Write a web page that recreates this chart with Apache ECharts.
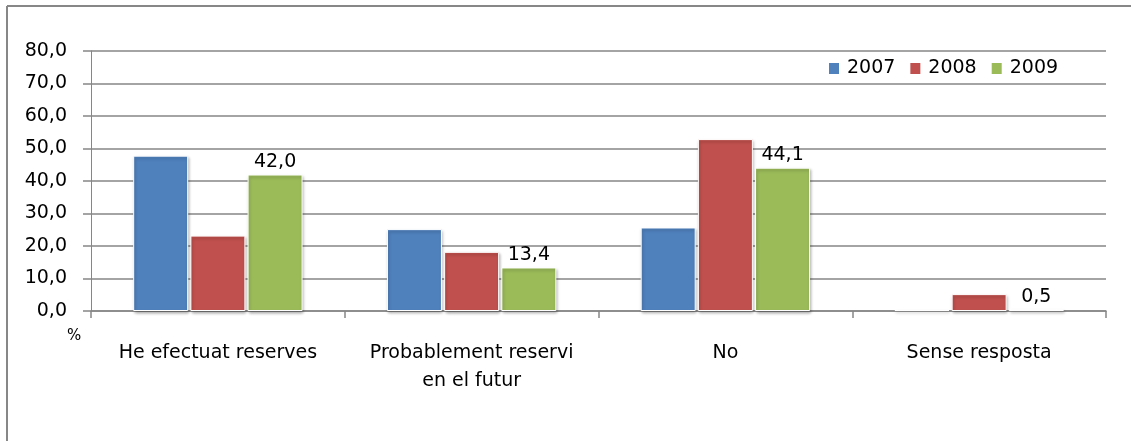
<!DOCTYPE html>
<html>
<head>
<meta charset="utf-8">
<script src="https://cdn.jsdelivr.net/npm/echarts@6/dist/echarts.min.js"></script>
<style>
  html, body { margin: 0; padding: 0; background: #fff; }
  #chart { width: 1131px; height: 441px; }
</style>
</head>
<body>
<div id="chart"></div>
<script>
  // values
  const categories = ['He efectuat reserves', 'Probablement reservi\nen el futur', 'No', 'Sense resposta']
  const years = ['2007', '2008', '2009']
  const values2007 = [47.8, 25.2, 25.7, 0.3]
  const values2008 = [23.2, 18.2, 52.9, 5.2]
  const values2009 = [42.0, 13.4, 44.1, 0.5]
  const colors = ['#4F81BD', '#C0504D', '#9BBB59']

  const fmt = v => Number(v).toFixed(1).replace('.', ',')
  const font = 'DejaVu Sans'
  const frame = { stroke: '#878787', lineWidth: 2 }

  const chart = echarts.init(document.getElementById('chart'))

  function barSeries(name, data, color, withLabel) {
    return {
      name: name,
      type: 'bar',
      data: data,
      barWidth: 55,
      barGap: '4%',
      itemStyle: {
        color: color,
        borderColor: '#fff',
        borderWidth: 1,
        shadowColor: 'rgba(0,0,0,0.3)',
        shadowBlur: 3,
        shadowOffsetX: 1,
        shadowOffsetY: 2
      },
      label: {
        show: withLabel,
        position: 'top',
        distance: 3,
        color: '#000',
        fontFamily: font,
        fontSize: 19,
        formatter: p => fmt(p.value)
      }
    }
  }

  chart.setOption({
    animation: false,
    color: colors,
    graphic: [
      // chart frame: only the top and left edges fall inside the picture
      { type: 'line', shape: { x1: 7, y1: 6, x2: 1131, y2: 6 }, style: frame, silent: true },
      { type: 'line', shape: { x1: 7, y1: 6, x2: 7, y2: 441 }, style: frame, silent: true },
      {
        type: 'text',
        left: 67,
        top: 329,
        style: { text: '%', fontFamily: font, fontSize: 15, fill: '#000' }
      }
    ],
    legend: {
      data: years,
      left: 822,
      top: 54,
      icon: 'rect',
      itemWidth: 12,
      itemHeight: 13,
      itemGap: 13,
      textStyle: { fontFamily: font, fontSize: 19, color: '#000', padding: [0, 0, 0, 2] }
    },
    grid: {
      left: 91,
      right: 25,
      top: 51,
      bottom: 130
    },
    xAxis: {
      type: 'category',
      data: categories,
      axisLine: { lineStyle: { color: '#868686', width: 1.5 } },
      axisTick: { show: true, length: 7, alignWithLabel: false, lineStyle: { color: '#868686', width: 1.5 } },
      axisLabel: {
        interval: 0,
        margin: 28,
        color: '#000',
        fontFamily: font,
        fontSize: 19,
        lineHeight: 28
      }
    },
    yAxis: {
      type: 'value',
      min: 0,
      max: 80,
      interval: 10,
      axisLine: { show: true, lineStyle: { color: '#868686', width: 1 } },
      axisTick: { show: true, length: 8, lineStyle: { color: '#868686', width: 1.5 } },
      splitLine: { lineStyle: { color: '#868686', width: 1.5 } },
      axisLabel: {
        margin: 24,
        color: '#000',
        fontFamily: font,
        fontSize: 19,
        formatter: v => fmt(v)
      }
    },
    series: [
      barSeries(years[0], values2007, colors[0], false),
      barSeries(years[1], values2008, colors[1], false),
      barSeries(years[2], values2009, colors[2], true)
    ]
  })
</script>
</body>
</html>
